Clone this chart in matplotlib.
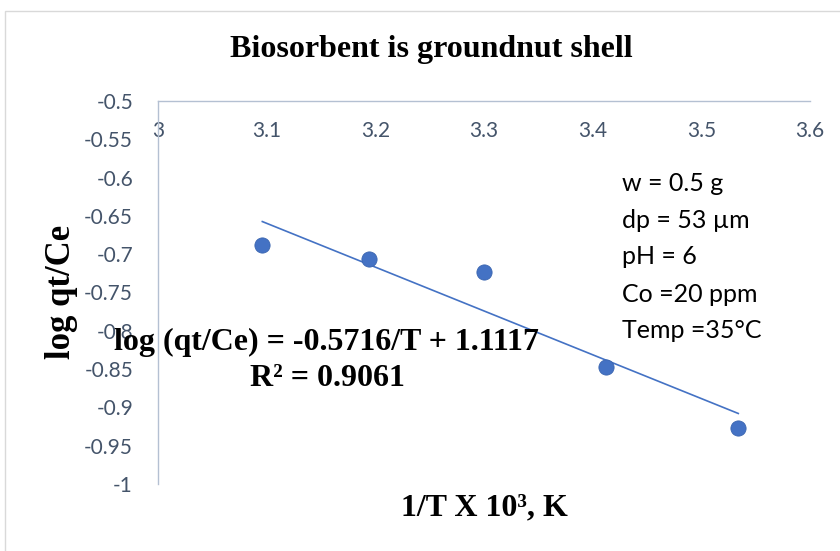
import numpy as np
import matplotlib
matplotlib.use('Agg')
from matplotlib import pyplot as plt
from matplotlib.patches import Rectangle

# 1/T x 10^3 (K^-1) and log(qt/Ce)
invT = [3.096, 3.194, 3.300, 3.412, 3.534]
logq = [-0.688, -0.706, -0.723, -0.847, -0.927]
xticks = [3, 3.1, 3.2, 3.3, 3.4, 3.5, 3.6]
xtick_labels = ['3', '3.1', '3.2', '3.3', '3.4', '3.5', '3.6']
yticks = [-0.5, -0.55, -0.6, -0.65, -0.7, -0.75, -0.8, -0.85, -0.9, -0.95, -1]
ytick_labels = ['-0.5', '-0.55', '-0.6', '-0.65', '-0.7', '-0.75', '-0.8', '-0.85', '-0.9', '-0.95', '-1']
conditions = ['w = 0.5 g', 'dp = 53 \u00b5m', 'pH = 6', 'Co =20 ppm', 'Temp =35\u00b0C']

blue = '#4472C4'
axcol = '#B4C0D2'
tickcol = '#44546A'
serif = 'Liberation Serif'
sans = 'Lato'

fig = plt.figure(figsize=(8.4, 5.51), dpi=100)
fig.patches.append(Rectangle((5/840, -0.1), 1.1, 1 - 11/551 + 0.1, transform=fig.transFigure,
                             fill=False, edgecolor='#D9D9D9', lw=1))
ax = fig.add_axes([158/840, 1 - 484/551, (810-158)/840, (484-101)/551])

ax.scatter(invT, logq, s=120, color=blue, edgecolor='#3A65B0', lw=0.6, zorder=3)

# linear trendline
k, b = np.polyfit(invT, logq, 1)
xf = np.array([min(invT), max(invT)])
ax.plot(xf, k * xf + b, color=blue, lw=1.2, zorder=2)

ax.set_xlim(3, 3.6)
ax.set_ylim(-1, -0.5)
ax.set_xticks(xticks)
ax.set_xticklabels(xtick_labels, family=sans, fontsize=15, color=tickcol)
ax.set_yticks(yticks)
ax.set_yticklabels(ytick_labels, family=sans, fontsize=15, color=tickcol)
ax.tick_params(axis='x', top=True, labeltop=True, bottom=False, labelbottom=False,
               length=0, pad=-29)
ax.tick_params(axis='y', length=0, pad=18)
for s in ['bottom', 'right']:
    ax.spines[s].set_visible(False)
for s in ['left', 'top']:
    ax.spines[s].set_color(axcol)
    ax.spines[s].set_linewidth(1)

fig.text(431/840, 1 - 50/551, 'Biosorbent is groundnut shell', family=serif,
         fontweight='bold', fontsize=23, ha='center', va='center')
fig.text(62/840, 1 - 292/551, 'log qt/Ce', family=serif, fontweight='bold',
         fontsize=25, rotation=90, ha='center', va='center')
fig.text(484/840, 1 - 508/551, '1/T X 10\u00b3, K', family=serif, fontweight='bold',
         fontsize=23, ha='center', va='center')

fig.text(326/840, 1 - 342/551, 'log (qt/Ce) = %.4f/T + %.4f' % (-0.5716, 1.1117),
         family=serif, fontweight='bold', fontsize=23, ha='center', va='center')
fig.text(327/840, 1 - 378/551, 'R\u00b2 = 0.9061', family=serif, fontweight='bold',
         fontsize=23, ha='center', va='center')

for i, t in enumerate(conditions):
    fig.text(622/840, 1 - (183 + 37 * i)/551, t, family=sans, fontsize=18,
             ha='left', va='center', color='black')

fig.savefig('out.png', dpi=100)
